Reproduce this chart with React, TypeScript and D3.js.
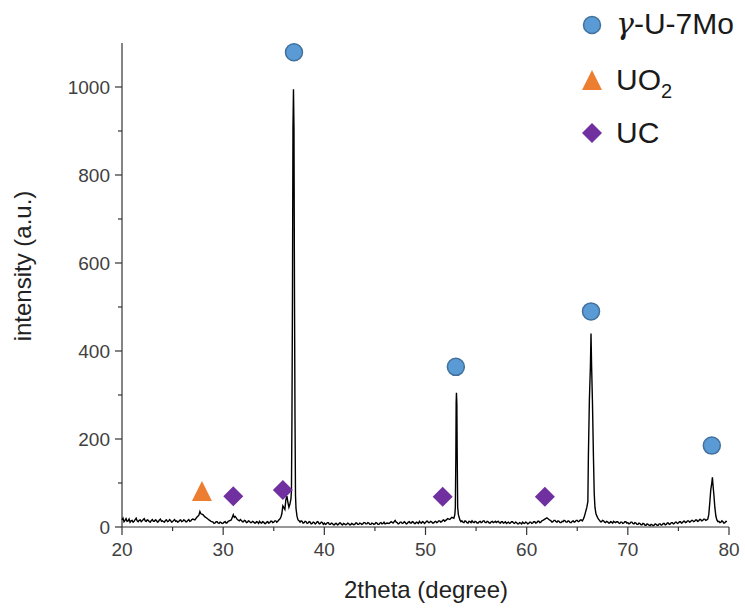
import React, { useEffect } from 'react';
import * as d3 from 'd3';

// ---- XRD pattern: [2theta, intensity] ----
const seg20to30: [number, number][] = [
  [20.0,16],[20.1,20],[20.2,12],[20.3,15],[20.4,19],[20.5,13],[20.6,14],[20.7,18],[20.8,11],[20.9,14],
  [21.0,15],[21.1,11],[21.2,13],[21.3,17],[21.4,20],[21.5,14],[21.6,12],[21.7,15],[21.8,16],[21.9,12],
  [22.0,14],[22.1,17],[22.2,19],[22.3,14],[22.4,13],[22.5,16],[22.6,15],[22.7,12],[22.8,11],[22.9,15],
  [23.0,17],[23.1,13],[23.2,13],[23.3,16],[23.4,15],[23.5,11],[23.6,12],[23.7,16],[23.8,18],[23.9,13],
  [24.0,14],[24.1,12],[24.2,11],[24.3,15],[24.4,16],[24.5,12],[24.6,13],[24.7,17],[24.8,15],[24.9,11],
  [25.0,12],[25.1,15],[25.2,17],[25.3,13],[25.4,14],[25.5,11],[25.6,12],[25.7,15],[25.8,16],[25.9,12],
  [26.0,13],[26.1,16],[26.2,15],[26.3,12],[26.4,12],[26.5,15],[26.6,17],[26.7,13],[26.8,14],[26.9,17],
  [27.0,18],[27.2,16],[27.4,22],[27.6,27],[27.7,35],[27.8,30],[28.0,28],[28.2,23],[28.4,20],[28.6,16],
  [28.8,13],[29.0,11],[29.1,8],[29.2,9],[29.3,12],[29.4,12],[29.5,9],[29.6,8],[29.7,11],[29.8,10],[29.9,8],
];
const seg30to37: [number, number][] = [
  [30.0,9],[30.1,11],[30.2,12],[30.3,9],[30.4,10],[30.5,13],[30.6,14],[30.8,16],[31.0,28],[31.1,22],
  [31.2,24],[31.4,17],[31.6,14],[31.7,17],[31.8,15],[31.9,12],[32.0,12],[32.1,15],[32.2,14],[32.3,10],
  [32.4,11],[32.5,14],[32.6,13],[32.7,10],[32.8,10],[32.9,13],[33.0,12],[33.1,9],[33.2,9],[33.3,12],
  [33.4,11],[33.5,8],[33.6,13],[33.7,10],[33.8,9],[33.9,12],[34.0,11],[34.1,8],[34.2,8],[34.3,11],
  [34.4,12],[34.5,9],[34.6,10],[34.7,13],[34.8,13],[34.9,10],[35.0,11],[35.1,14],[35.2,14],[35.3,11],
  [35.4,13],[35.5,16],[35.6,18],[35.7,22],[35.8,30],[35.9,48],[36.0,44],[36.1,40],[36.2,62],[36.3,70],
  [36.4,56],[36.5,45],[36.6,52],[36.7,64],
];
const peak37: [number, number][] = [
  [36.75,82],[36.8,250],[36.85,525],[36.9,905],[36.95,995],[37.0,905],[37.05,525],[37.1,250],[37.15,72],
  [37.2,42],[37.3,24],[37.4,16],[37.5,14],[37.6,11],[37.7,14],[37.8,13],[37.9,9],[38.0,10],[38.1,13],
  [38.2,12],[38.3,8],[38.4,9],[38.5,12],[38.6,11],[38.7,7],[38.8,8],[38.9,11],[39.0,10],[39.1,7],
  [39.2,9],[39.3,12],[39.4,11],[39.5,7],[39.6,8],[39.7,11],[39.8,10],[39.9,6],
];
const seg40to53: [number, number][] = [
  [40.0,9],[40.1,6],[40.2,7],[40.3,10],[40.4,10],[40.5,6],[40.6,6],[40.7,9],[40.8,8],[40.9,5],
  [41.0,5],[41.1,8],[41.2,8],[41.3,5],[41.4,6],[41.5,9],[41.6,9],[41.7,6],[41.8,5],[41.9,8],
  [42.0,7],[42.1,5],[42.2,6],[42.3,9],[42.4,8],[42.5,5],[42.6,5],[42.7,8],[42.8,7],[42.9,5],
  [43.0,6],[43.1,9],[43.2,9],[43.3,6],[43.4,6],[43.5,9],[43.6,8],[43.7,6],[43.8,7],[43.9,10],
  [44.0,10],[44.1,7],[44.2,7],[44.3,10],[44.4,9],[44.5,6],[44.6,6],[44.7,9],[44.8,8],[44.9,6],
  [45.0,7],[45.1,10],[45.2,9],[45.3,6],[45.4,6],[45.5,9],[45.6,10],[45.7,7],[45.8,8],[45.9,11],
  [46.0,7],[46.2,9],[46.4,8],[46.6,12],[46.8,9],[47.0,15],[47.1,11],[47.2,10],[47.3,7],[47.4,8],
  [47.5,11],[47.6,11],[47.7,8],[47.8,9],[47.9,12],[48.0,10],[48.1,7],[48.2,8],[48.3,11],[48.4,12],
  [48.5,9],[48.6,9],[48.7,12],[48.8,11],[48.9,8],[49.0,8],[49.1,11],[49.2,10],[49.3,8],[49.4,13],
  [49.5,10],[49.6,9],[49.7,12],[49.8,11],[49.9,8],[50.0,10],[50.1,13],[50.2,13],[50.3,10],[50.4,10],
  [50.5,13],[50.6,12],[50.7,9],[50.8,9],[50.9,12],[51.0,13],[51.1,10],[51.2,11],[51.3,14],[51.4,14],
  [51.5,11],[51.6,12],[51.7,15],[51.8,16],[51.9,13],[52.0,15],[52.2,19],[52.4,17],[52.6,22],[52.8,20],[52.9,28],
];
const peak53: [number, number][] = [
  [52.95,45],[53.0,160],[53.03,282],[53.06,305],[53.1,280],[53.13,175],[53.18,45],[53.25,28],[53.4,16],
  [53.5,12],[53.6,14],[53.7,11],[53.8,10],[53.9,14],
];
const seg54to66: [number, number][] = [
  [54.0,13],[54.1,10],[54.2,9],[54.3,13],[54.4,12],[54.5,10],[54.6,14],[54.7,11],[54.8,10],[54.9,13],
  [55.0,12],[55.1,9],[55.2,9],[55.3,12],[55.4,13],[55.5,10],[55.6,11],[55.7,14],[55.8,14],[55.9,10],
  [56.0,10],[56.1,13],[56.2,12],[56.3,9],[56.4,9],[56.5,12],[56.6,13],[56.7,10],[56.8,11],[56.9,13],
  [57.0,10],[57.1,12],[57.2,13],[57.3,10],[57.4,9],[57.5,12],[57.6,12],[57.7,9],[57.8,10],[57.9,12],
  [58.0,8],[58.1,10],[58.2,11],[58.3,8],[58.4,9],[58.5,12],[58.6,12],[58.7,9],[58.8,8],[58.9,11],
  [59.0,10],[59.1,7],[59.2,7],[59.3,10],[59.4,9],[59.5,7],[59.6,11],[59.7,9],[59.8,8],[59.9,11],
  [60.0,10],[60.1,7],[60.2,8],[60.3,11],[60.4,11],[60.5,8],[60.6,9],[60.7,12],[60.8,12],[60.9,9],
  [61.0,10],[61.1,13],[61.2,13],[61.3,10],[61.4,11],[61.5,14],[61.6,15],[61.8,18],[62.0,21],[62.2,17],
  [62.4,14],[62.5,11],[62.6,12],[62.7,15],[62.8,15],[62.9,12],[63.0,11],[63.1,14],[63.2,13],[63.3,10],
  [63.4,10],[63.5,13],[63.6,12],[63.7,15],[63.8,14],[63.9,11],[64.0,11],[64.1,14],[64.2,13],[64.3,10],
  [64.4,10],[64.5,13],[64.6,14],[64.7,11],[64.8,12],[64.9,15],[65.0,15],[65.1,12],[65.2,13],[65.3,16],
  [65.4,16],[65.5,14],[65.6,18],[65.7,24],
];
const peak66: [number, number][] = [
  [65.8,32],[65.95,45],[66.05,58],[66.1,160],[66.2,290],[66.3,365],[66.36,440],[66.42,365],[66.5,288],
  [66.6,160],[66.68,75],[66.75,45],[66.85,30],[67.0,22],[67.1,18],
];
const seg67to78: [number, number][] = [
  [67.2,15],[67.3,12],[67.4,12],[67.5,15],[67.6,14],[67.7,11],[67.8,10],[67.9,13],[68.0,12],[68.1,9],
  [68.2,9],[68.3,12],[68.4,11],[68.5,9],[68.6,13],[68.7,11],[68.8,10],[68.9,12],[69.0,12],[69.1,9],
  [69.2,8],[69.3,11],[69.4,11],[69.5,8],[69.6,9],[69.7,12],[69.8,12],[69.9,9],[70.0,10],[70.1,7],
  [70.2,8],[70.3,11],[70.4,11],[70.5,8],[70.6,7],[70.7,10],[70.8,9],[70.9,6],[71.0,6],[71.1,9],
  [71.2,8],[71.3,5],[71.4,5],[71.5,8],[71.6,7],[71.7,4],[71.8,4],[71.9,7],[72.0,6],[72.1,4],
  [72.2,3],[72.3,6],[72.4,5],[72.5,3],[72.6,4],[72.7,7],[72.8,6],[72.9,4],[73.0,4],[73.1,7],
  [73.2,7],[73.3,4],[73.4,5],[73.5,8],[73.6,8],[73.7,5],[73.8,6],[73.9,9],[74.0,9],[74.1,6],
  [74.2,7],[74.3,10],[74.4,10],[74.5,7],[74.6,8],[74.7,11],[74.8,11],[74.9,8],[75.0,9],[75.1,12],
  [75.2,12],[75.3,9],[75.4,10],[75.5,13],[75.6,13],[75.7,10],[75.8,11],[75.9,14],[76.0,14],[76.1,11],
  [76.2,12],[76.3,15],[76.4,15],[76.5,12],[76.6,13],[76.7,16],[76.8,16],[76.9,13],[77.0,14],[77.1,17],
  [77.2,17],[77.3,14],[77.4,15],[77.5,18],[77.6,18],[77.7,15],[77.8,16],
];
const peak78: [number, number][] = [
  [77.9,18],[78.0,28],[78.1,55],[78.2,85],[78.3,100],[78.36,113],[78.42,95],[78.5,75],[78.6,45],
  [78.7,25],[78.8,16],[78.9,12],[79.0,13],[79.1,10],[79.2,11],[79.3,14],[79.4,12],[79.5,9],[79.6,10],
  [79.7,13],[79.8,12],
];

// ---- phase markers [2theta, intensity] ----
const gammaMarks: [number, number][] = [[37.0,1079],[53.0,364],[66.36,490],[78.3,185]];
const uo2Marks: [number, number][] = [[27.9,82]];
const ucMarks: [number, number][] = [[31.0,70],[35.9,84],[51.7,69],[61.8,69]];

// ---- axes ----
const xTicks = [20,30,40,50,60,70,80];
const xMinorTicks = [25,35,45,55,65,75];
const yTicks = [0,200,400,600,800,1000];
const yMinorTicks = [100,300,500,700,900];
const xDomain: [number, number] = [20, 80];
const yDomain: [number, number] = [0, 1100];
const xTitle = '2theta (degree)';
const yTitle = 'intensity (a.u.)';

const W = 745, H = 610;
const left = 122, right = 729, top = 43, bottom = 527;

const BLUE = '#5b9bd5', BLUE_EDGE = '#41719c', ORANGE = '#ed7d31', PURPLE = '#7030a0';
const FONT = 'Liberation Sans, Arial, sans-serif';

function Circle({ cx, cy }: { cx: number; cy: number }) {
  return <circle cx={cx} cy={cy} r={8.5} fill={BLUE} stroke={BLUE_EDGE} strokeWidth={1.5} />;
}
function Tri({ cx, cy }: { cx: number; cy: number }) {
  const w = 20, h = 20;
  return <path d={`M${cx},${cy - h / 2}L${cx + w / 2},${cy + h / 2}L${cx - w / 2},${cy + h / 2}Z`} fill={ORANGE} />;
}
function Dia({ cx, cy }: { cx: number; cy: number }) {
  const s = 10;
  return <path d={`M${cx},${cy - s}L${cx + s},${cy}L${cx},${cy + s}L${cx - s},${cy}Z`} fill={PURPLE} />;
}

export default function App() {
  useEffect(() => { document.body.style.margin = '0'; }, []);
  const x = d3.scaleLinear().domain(xDomain).range([left, right]);
  const y = d3.scaleLinear().domain(yDomain).range([bottom, top]);
  const data = [...seg20to30, ...seg30to37, ...peak37, ...seg40to53, ...peak53, ...seg54to66, ...peak66, ...seg67to78, ...peak78];
  const line = d3.line<[number, number]>().x(d => x(d[0])).y(d => y(d[1]));
  const axisColor = '#333';
  const tickText = '#404040';
  return (
    <svg width={W} height={H} style={{ position: 'absolute', left: 0, top: 0, background: '#fff' }} fontFamily={FONT}>
      <rect width={W} height={H} fill="#fff" />
      {/* y axis */}
      <line x1={left} x2={left} y1={y(yDomain[1])} y2={y(0)} stroke={axisColor} strokeWidth={1.2} />
      {yTicks.map(t => (
        <g key={'y' + t}>
          <line x1={left - 7} x2={left} y1={y(t)} y2={y(t)} stroke={axisColor} strokeWidth={1.2} />
          <text x={left - 12} y={y(t)} dy="0.35em" textAnchor="end" fontSize={19} fill={tickText}>{t}</text>
        </g>
      ))}
      {yMinorTicks.map(t => (
        <line key={'ym' + t} x1={left - 4} x2={left} y1={y(t)} y2={y(t)} stroke={axisColor} strokeWidth={1.2} />
      ))}
      {/* x axis */}
      <line x1={left} x2={right} y1={bottom} y2={bottom} stroke={axisColor} strokeWidth={1.2} />
      {xTicks.map(t => (
        <g key={'x' + t}>
          <line x1={x(t)} x2={x(t)} y1={bottom} y2={bottom + 8} stroke={axisColor} strokeWidth={1.2} />
          <text x={x(t)} y={bottom + 29} textAnchor="middle" fontSize={19} fill={tickText}>{t}</text>
        </g>
      ))}
      {xMinorTicks.map(t => (
        <line key={'xm' + t} x1={x(t)} x2={x(t)} y1={bottom} y2={bottom + 4} stroke={axisColor} strokeWidth={1.2} />
      ))}
      {/* titles */}
      <text x={426} y={598} textAnchor="middle" fontSize={24} fill="#222">{xTitle}</text>
      <text transform={`translate(31,266) rotate(-90)`} textAnchor="middle" fontSize={24} fill="#222">{yTitle}</text>
      {/* data */}
      <path d={line(data) || ''} fill="none" stroke="#000" strokeWidth={1.4} strokeLinejoin="miter" />
      {/* markers */}
      {uo2Marks.map((d, i) => <Tri key={'t' + i} cx={x(d[0])} cy={y(d[1])} />)}
      {ucMarks.map((d, i) => <Dia key={'d' + i} cx={x(d[0])} cy={y(d[1])} />)}
      {gammaMarks.map((d, i) => <Circle key={'c' + i} cx={x(d[0])} cy={y(d[1])} />)}
      {/* legend */}
      <Circle cx={592} cy={25} />
      <text x={616} y={34} fontSize={30} fill="#1a1a1a"><tspan fontStyle="italic" fontFamily="DejaVu Serif, serif">γ</tspan>-U-7Mo</text>
      <Tri cx={592} cy={80} />
      <text x={616} y={90} fontSize={30} fill="#1a1a1a">UO<tspan fontSize={20} dy={8}>2</tspan></text>
      <Dia cx={592} cy={133} />
      <text x={616} y={143} fontSize={30} fill="#1a1a1a">UC</text>
    </svg>
  );
}
